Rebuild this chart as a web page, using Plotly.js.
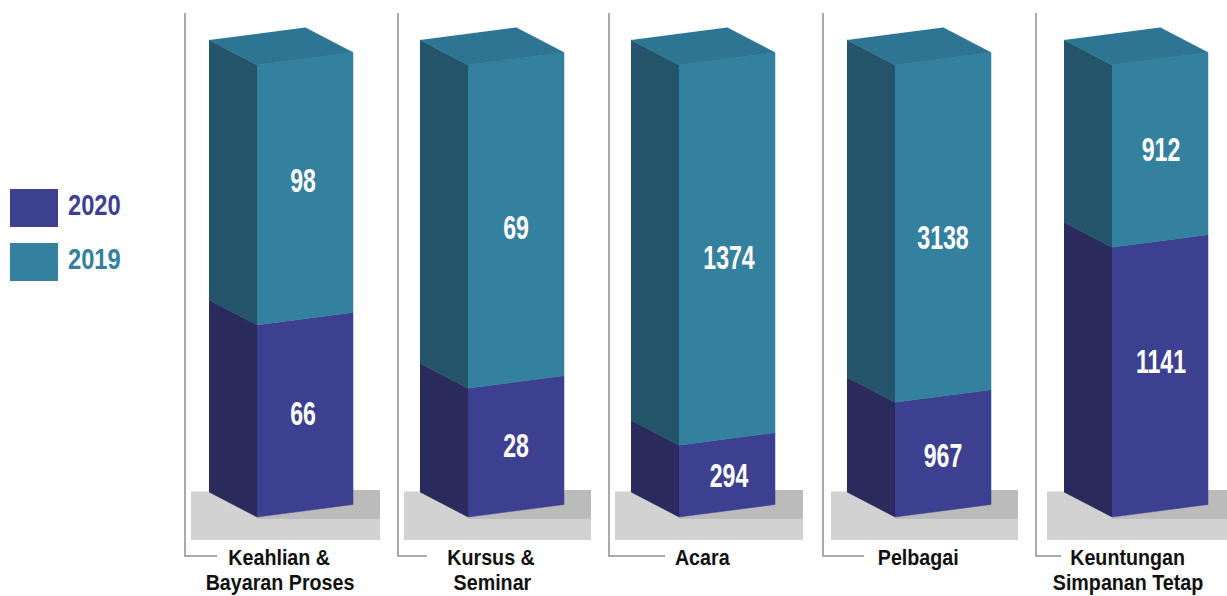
<!DOCTYPE html>
<html>
<head>
<meta charset="utf-8">
<script src="https://cdn.plot.ly/plotly-3.0.1.min.js"></script>
<style>html,body{margin:0;padding:0;background:#fff;overflow:hidden}</style>
</head>
<body>
<div id="chart" style="width:1227px;height:596px"></div>
<script>
// ---- data ----
const categoryLine1 = ['Keahlian &', 'Kursus &', 'Acara', 'Pelbagai', 'Keuntungan'];
const categoryLine2 = ['Bayaran Proses', 'Seminar', '', '', 'Simpanan Tetap'];
const values2020 = [66, 28, 294, 967, 1141];
const values2019 = [98, 69, 1374, 3138, 912];
// share of the column height drawn for 2020, as measured in the picture (%)
const drawnShare2020 = [42.5, 28.5, 15.9, 25.4, 59.7];

// ---- layout ----
const W = 1227, H = 596;
const baseYpx = 517, pxPerPct = 4.52;
const barLeft = [209, 420, 631, 847, 1064];
const depthX = 48, depthY = 25, faceW = 96, faceRise = 12.5;
const floorLeft = [191, 404, 615, 831, 1047];
const floorRight = [380, 591, 803, 1018, 1227];
const frameX = [185, 398, 609, 823, 1036];
const frameEnd = [217, 427, 665, 864, 1061];
const labelX = [279, 491, 702, 918, 1127];
const valueX = [303, 516, 729, 943, 1161];
const shift2019 = [5, -10, -12, -13, -3];   // label offsets in px
const shift2020 = [-2, -2, -4, -5, 11];

const colors = {f20:'#3d3f91', s20:'#2a2b5c', f19:'#33809f', s19:'#235469', top:'#2e7593', frame:'#8f8f8f', floorL:'#d2d2d2', floorD:'#bbbbbb'};
const font = '"Liberation Sans",Arial,sans-serif';

const pct = dy => dy / pxPerPct;               // px height to axis units
const yPaper = p => 1 - p / H;

function polys(build) {
  const x = [], y = [];
  barLeft.forEach((l, i) => {
    build(l, drawnShare2020[i]).forEach(pt => { x.push(pt[0]); y.push(pt[1]); });
    x.push(null); y.push(null);
  });
  return {x, y};
}
function face(name, color, build) {
  const p = polys(build);
  return {type:'scatter', mode:'lines', name, x:p.x, y:p.y, fill:'toself', fillcolor:color,
          line:{width:0.5, color}, hoverinfo:'skip', showlegend:false};
}
const m = l => l + depthX, r = l => l + depthX + faceW;
const rise = pct(faceRise), side = pct(depthY);

const traces = [
  face('2020 side', colors.s20, (l, s) => [[l, side],[m(l), 0],[m(l), s],[l, s + side]]),
  face('2019 side', colors.s19, (l, s) => [[l, s + side],[m(l), s],[m(l), 100],[l, 100 + side]]),
  face('2020 front', colors.f20, (l, s) => [[m(l), 0],[r(l), rise],[r(l), s + rise],[m(l), s]]),
  face('2019 front', colors.f19, (l, s) => [[m(l), s],[r(l), s + rise],[r(l), 100 + rise],[m(l), 100]]),
  face('2019 top', colors.top, (l, s) => [[l, 100 + side],[m(l), 100],[r(l), 100 + rise],[l + faceW, 100 + side + rise]]),
  {type:'scatter', mode:'text', name:'2020', hoverinfo:'skip', showlegend:false,
   x: valueX,
   y: drawnShare2020.map((s, i) => s / 2 + rise / 2 + pct(shift2020[i])),
   text: values2020.map(String),
   textfont:{family:font, size:33, color:'#ffffff', weight:700}},
  {type:'scatter', mode:'text', name:'2019', hoverinfo:'skip', showlegend:false,
   x: valueX,
   y: drawnShare2020.map((s, i) => (s + 100) / 2 + rise / 2 + pct(shift2019[i])),
   text: values2019.map(String),
   textfont:{family:font, size:33, color:'#ffffff', weight:700}}
];

const shapes = [];
floorLeft.forEach((fl, i) => {
  shapes.push({type:'rect', layer:'below', xref:'x', yref:'paper', x0:fl, x1:floorRight[i], y0:yPaper(540), y1:yPaper(491.5), fillcolor:colors.floorL, line:{width:0}});
  shapes.push({type:'rect', layer:'below', xref:'x', yref:'paper', x0:m(barLeft[i]), x1:floorRight[i], y0:yPaper(519), y1:yPaper(490), fillcolor:colors.floorD, line:{width:0}});
  shapes.push({type:'path', layer:'below', xref:'x', yref:'paper', line:{color:colors.frame, width:1.5},
    path:`M${frameX[i]},${yPaper(13)} L${frameX[i]},${yPaper(556)} L${frameEnd[i]},${yPaper(556)}`});
});
shapes.push({type:'rect', xref:'x', yref:'paper', x0:10, x1:58, y0:yPaper(227), y1:yPaper(189), fillcolor:colors.f20, line:{width:0}});
shapes.push({type:'rect', xref:'x', yref:'paper', x0:10, x1:58, y0:yPaper(281), y1:yPaper(243), fillcolor:colors.f19, line:{width:0}});

const annotations = [];
const catAnn = (text, x, yp) => ({
  text, xref:'x', yref:'paper', x, y:yPaper(yp), xanchor:'center', yanchor:'middle',
  showarrow:false, align:'center', font:{family:font, size:22.5, color:'#111111', weight:700}
});
categoryLine1.forEach((t, i) => annotations.push(catAnn(t, labelX[i], 557)));
categoryLine2.forEach((t, i) => { if (t) annotations.push(catAnn(t, labelX[i] + 1, 582.5)); });
[['2020', 205, colors.f20], ['2019', 258.5, colors.f19]].forEach(([t, yp, col]) => annotations.push({
  text:t, xref:'x', yref:'paper', x:94.5, y:yPaper(yp), xanchor:'center', yanchor:'middle',
  showarrow:false, font:{family:font, size:30, color:col, weight:700}
}));

const layout = {
  width:W, height:H, margin:{l:0, r:0, t:0, b:0}, autosize:false,
  paper_bgcolor:'#ffffff', plot_bgcolor:'#ffffff', showlegend:false,
  xaxis:{range:[0, W], visible:false, fixedrange:true},
  yaxis:{range:[(baseYpx - H) / pxPerPct, baseYpx / pxPerPct], visible:false, fixedrange:true},
  shapes, annotations
};
// the reference face is a narrow bold: narrow the real text without changing its height
function condense(el, k) {
  const len = el.getComputedTextLength();
  el.setAttribute('textLength', (len * k).toFixed(2));
  el.setAttribute('lengthAdjust', 'spacingAndGlyphs');
}
Plotly.newPlot('chart', traces, layout, {displayModeBar:false, staticPlot:true}).then(() => {
  const root = document.getElementById('chart');
  root.querySelectorAll('.textpoint text').forEach(el => condense(el, 0.7));
  root.querySelectorAll('.annotation-text').forEach(el => {
    condense(el, /^20\d\d$/.test(el.textContent) ? 0.79 : 0.875);
  });
});
</script>
</body>
</html>
